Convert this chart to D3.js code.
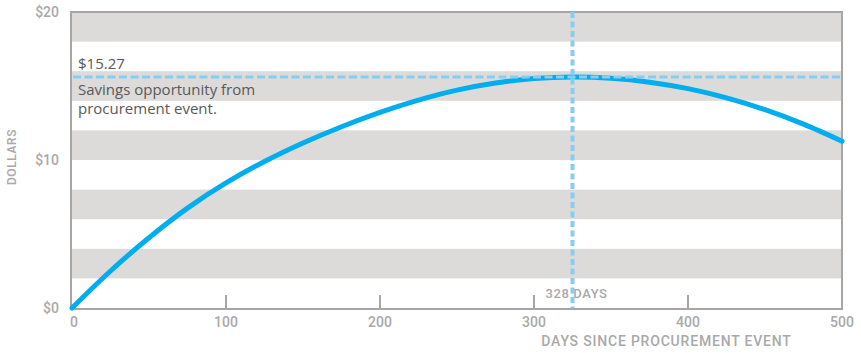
<!DOCTYPE html>
<html>
<head>
<meta charset="utf-8">
<script src="https://cdn.jsdelivr.net/npm/d3@7"></script>
<style>
  body { margin: 0; background: #fff; }
  .din { font-family: Roboto, "DejaVu Sans", sans-serif; font-weight: 500; fill: #a9a9a9; }
  .note { font-family: "Open Sans", "Noto Sans", sans-serif; fill: #595959; }
</style>
</head>
<body>
<div id="chart"></div>
<script>
// savings curve (days -> dollars)
const days = [0, 25, 50, 75, 100, 125, 150, 175, 200, 225, 250, 275, 300, 325, 350, 375, 400, 425, 450, 475, 500];
const dollars = [0, 2.5, 4.75, 6.75, 8.45, 9.9, 11.15, 12.25, 13.22, 14.05, 14.72, 15.2, 15.5, 15.6, 15.52, 15.26, 14.82, 14.2, 13.4, 12.42, 11.27];

const xTicks = [0, 100, 200, 300, 400, 500];
const yTicks = [0, 10, 20];
const bandStarts = [2, 6, 10, 14, 18]; // grey stripes, each $2 tall

const peakDay = 325;
const peakValue = 15.6;
const peakLabel = '$15.27';
const peakDayLabel = '328 DAYS';
const noteLines = ['Savings opportunity from', 'procurement event.'];

const W = 861, H = 353;
const margin = { top: 12, right: 19, bottom: 45, left: 72 };

const svg = d3.select('#chart').append('svg')
    .attr('width', W)
    .attr('height', H);

const x = d3.scaleLinear().domain([0, 500]).range([margin.left, W - margin.right]);
const y = d3.scaleLinear().domain([0, 20]).range([H - margin.bottom, margin.top]);

// grey stripes
svg.append('g').selectAll('rect')
    .data(bandStarts)
    .enter().append('rect')
    .attr('x', x(0))
    .attr('width', x(500) - x(0))
    .attr('y', d => y(d + 2))
    .attr('height', d => y(d) - y(d + 2))
    .attr('fill', '#dcdbda');

// frame
svg.append('rect')
    .attr('x', x(0) - 1)
    .attr('y', y(20))
    .attr('width', x(500) - x(0) + 1)
    .attr('height', y(0) - y(20) + 1)
    .attr('fill', 'none')
    .attr('stroke', '#a6a6a6')
    .attr('stroke-width', 2);

// small ticks on the bottom edge
svg.append('g').selectAll('line')
    .data(xTicks.filter(d => d > 0 && d < 500))
    .enter().append('line')
    .attr('x1', d => x(d)).attr('x2', d => x(d))
    .attr('y1', y(0)).attr('y2', y(0) - 13)
    .attr('stroke', '#a6a6a6')
    .attr('stroke-width', 2);

// tick labels
svg.append('g').selectAll('text')
    .data(xTicks)
    .enter().append('text')
    .attr('class', 'din')
    .attr('x', d => x(d) + (d === 0 ? 2 : 0))
    .attr('y', y(0) + 19)
    .attr('text-anchor', 'middle')
    .style('font-size', '14px')
    .text(d => d);

svg.append('g').selectAll('text')
    .data(yTicks)
    .enter().append('text')
    .attr('class', 'din')
    .attr('x', x(0) - 13)
    .attr('y', d => y(d) + 5)
    .attr('text-anchor', 'end')
    .style('font-size', '14px')
    .text(d => '$' + d);

// axis titles
svg.append('text')
    .attr('class', 'din')
    .attr('transform', `translate(16,${y(10.2)}) rotate(-90)`)
    .attr('text-anchor', 'middle')
    .style('font-size', '12px')
    .style('letter-spacing', '0.6px')
    .text('DOLLARS');

svg.append('text')
    .attr('class', 'din')
    .attr('x', x(386))
    .attr('y', H - 7)
    .attr('text-anchor', 'middle')
    .style('font-size', '14px')
    .style('letter-spacing', '0.8px')
    .text('DAYS SINCE PROCUREMENT EVENT');

// annotation texts
svg.append('text')
    .attr('class', 'din')
    .attr('x', x(peakDay) + 4)
    .attr('y', y(0) - 10)
    .attr('text-anchor', 'middle')
    .style('font-size', '13px')
    .style('letter-spacing', '0.6px')
    .text(peakDayLabel);

svg.append('text')
    .attr('class', 'note')
    .attr('x', x(0) + 6)
    .attr('y', y(peakValue) - 8)
    .style('font-size', '15px')
    .text(peakLabel);

svg.append('g').selectAll('text')
    .data(noteLines)
    .enter().append('text')
    .attr('class', 'note')
    .attr('x', x(0) + 6)
    .attr('y', (d, i) => y(peakValue) + 18 + i * 19)
    .style('font-size', '15px')
    .text(d => d);

// the curve
const line = d3.line()
    .x((d, i) => x(days[i]))
    .y(d => y(d))
    .curve(d3.curveCatmullRom);

svg.append('path')
    .datum(dollars)
    .attr('d', line)
    .attr('fill', 'none')
    .attr('stroke', '#00aeef')
    .attr('stroke-width', 5)
    .attr('stroke-linecap', 'round');

// peak guide lines
svg.append('line')
    .attr('x1', x(0) + 1).attr('x2', x(500))
    .attr('y1', y(peakValue)).attr('y2', y(peakValue))
    .attr('stroke', '#85cdf1')
    .attr('stroke-width', 3)
    .attr('stroke-dasharray', '8,3.5');

svg.append('line')
    .attr('x1', x(peakDay)).attr('x2', x(peakDay))
    .attr('y1', y(20)).attr('y2', y(0))
    .attr('stroke', '#85cdf1')
    .attr('stroke-width', 4)
    .attr('stroke-dasharray', '6,3.5');
</script>
</body>
</html>
